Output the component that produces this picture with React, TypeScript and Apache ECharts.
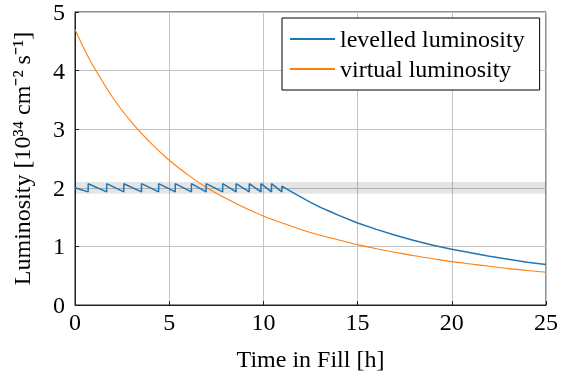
import React, { useEffect, useRef } from "react";
import * as echarts from "echarts";

const levelledTimes = [0, 0.70, 0.70, 1.68, 1.68, 2.59, 2.59, 3.53, 3.53, 4.44, 4.44, 5.32, 5.32, 6.18, 6.18, 6.96, 6.96, 7.84, 7.84, 8.55, 8.55, 9.25, 9.25, 9.87, 9.87, 10.43, 10.43, 10.98, 10.98, 11.5, 12, 12.5, 13, 13.5, 14, 15, 16, 17, 18, 19, 20, 21, 22, 23, 24, 25];
const levelledValues = [2.00, 1.93, 2.07, 1.93, 2.07, 1.93, 2.07, 1.93, 2.07, 1.93, 2.07, 1.93, 2.07, 1.93, 2.07, 1.93, 2.07, 1.93, 2.07, 1.93, 2.07, 1.93, 2.07, 1.93, 2.07, 1.93, 2.07, 1.93, 2.03, 1.93, 1.84, 1.75, 1.67, 1.60, 1.53, 1.40, 1.29, 1.19, 1.10, 1.02, 0.95, 0.89, 0.83, 0.78, 0.73, 0.69];

const virtualTimes = [0, 0.5, 1, 2, 3, 4, 5, 6, 7, 8, 9, 10, 11, 12, 13, 14, 15, 16, 17, 18, 19, 20, 21, 22, 23, 24, 25];
const virtualValues = [4.70, 4.36, 4.06, 3.54, 3.12, 2.77, 2.47, 2.22, 2.00, 1.82, 1.66, 1.52, 1.40, 1.29, 1.19, 1.11, 1.03, 0.96, 0.90, 0.84, 0.79, 0.74, 0.70, 0.66, 0.62, 0.59, 0.56];

const bandRange = [1.9, 2.1];
const xTicks = [0, 5, 10, 15, 20, 25];
const yTicks = [0, 1, 2, 3, 4, 5];

const FONT = "Times New Roman";
const FS = 24;

export default function App() {
  const ref = useRef<HTMLDivElement>(null);
  useEffect(() => {
    if (!ref.current) return;
    const chart = echarts.init(ref.current, undefined, { renderer: "svg" });
    chart.setOption({
      animation: false,
      grid: {
        left: 75, right: 13, top: 12, bottom: 69,
        show: true, borderColor: "#222", borderWidth: 1,
      },
      legend: {
        orient: "vertical",
        left: 282,
        top: 18,
        padding: [9, 15, 9, 8],
        itemGap: 6,
        itemWidth: 45,
        itemHeight: 2,
        icon: "rect",
        borderColor: "#000",
        borderWidth: 1,
        borderRadius: 0,
        backgroundColor: "#fff",
        textStyle: { fontFamily: FONT, fontSize: FS, color: "#000" },
        data: ["levelled luminosity", "virtual luminosity"],
      },
      xAxis: {
        type: "value",
        min: xTicks[0],
        max: xTicks[xTicks.length - 1],
        interval: 5,
        axisLine: { show: true, onZero: false, lineStyle: { color: "#222", width: 1 } },
        axisTick: { show: true, inside: true, length: 4, lineStyle: { color: "#222" } },
        splitLine: { show: true, lineStyle: { color: "#c4c4c4", width: 1 } },
        axisLabel: { fontFamily: FONT, fontSize: FS, color: "#000", margin: 5 },
        name: "Time in Fill [h]",
        nameLocation: "middle",
        nameGap: 42,
        nameTextStyle: { fontFamily: FONT, fontSize: FS, color: "#000" },
      },
      yAxis: {
        type: "value",
        min: yTicks[0],
        max: yTicks[yTicks.length - 1],
        interval: 1,
        axisLine: { show: true, onZero: false, lineStyle: { color: "#222", width: 1 } },
        axisTick: { show: true, inside: true, length: 4, lineStyle: { color: "#222" } },
        splitLine: { show: true, lineStyle: { color: "#c4c4c4", width: 1 } },
        axisLabel: { fontFamily: FONT, fontSize: FS, color: "#000", margin: 10 },
        name: "Luminosity [10³⁴ cm⁻² s⁻¹]",
        nameLocation: "middle",
        nameRotate: 90,
        nameGap: 41,
        nameTextStyle: { fontFamily: FONT, fontSize: FS, color: "#000" },
      },
      series: [
        {
          name: "levelled luminosity",
          type: "line",
          showSymbol: false,
          symbol: "none",
          color: "#1f77b4",
          lineStyle: { width: 1.5, color: "#1f77b4" },
          data: levelledTimes.map((t, i) => [t, levelledValues[i]]),
          markArea: {
            silent: true,
            itemStyle: { color: "rgba(0,0,0,0.1)" },
            data: [[{ yAxis: bandRange[0] }, { yAxis: bandRange[1] }]],
          },
          z: 3,
        },
        {
          name: "virtual luminosity",
          type: "line",
          showSymbol: false,
          symbol: "none",
          smooth: 0.3,
          color: "#ff7f0e",
          lineStyle: { width: 1.1, color: "#ff7f0e" },
          data: virtualTimes.map((t, i) => [t, virtualValues[i]]),
          z: 2,
        },
      ],
    });
    return () => chart.dispose();
  }, []);
  return <div ref={ref} style={{ position: "fixed", left: 0, top: 0, width: 561, height: 376 }} />;
}
